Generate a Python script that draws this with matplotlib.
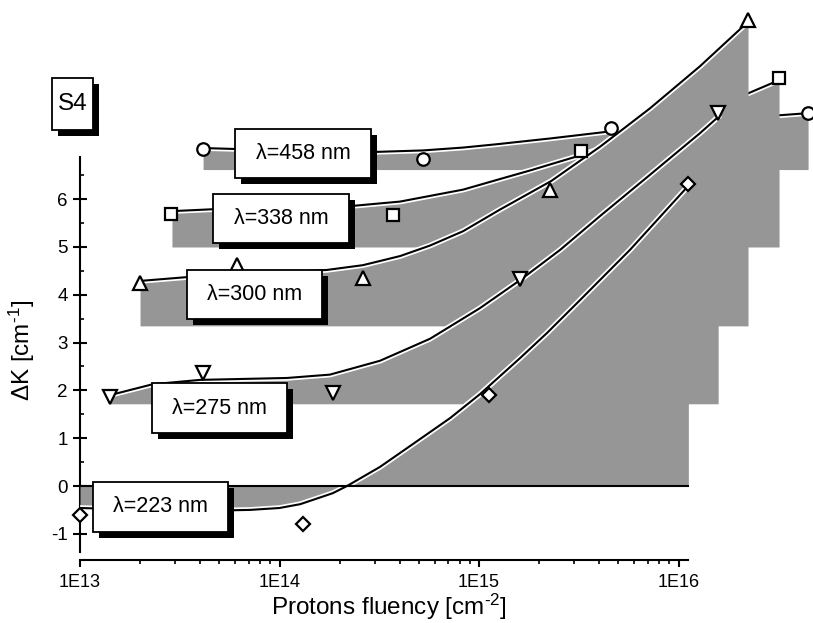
import numpy as np
import matplotlib
matplotlib.use("Agg")
import matplotlib.pyplot as plt
import matplotlib.patheffects as pe
from matplotlib.patches import Rectangle

plt.rcParams['font.family'] = ['Liberation Sans', 'DejaVu Sans']
plt.rcParams['mathtext.default'] = 'regular'
plt.rcParams['axes.unicode_minus'] = False

# measured points (fluence in cm^-2, delta K in cm^-1)
x_458 = [4.14e13, 5.24e14, 4.59e15, 4.46e16]
y_458 = [7.05, 6.84, 7.49, 7.80]
x_338 = [2.86e13, 3.71e14, 3.24e15, 3.19e16]
y_338 = [5.69, 5.67, 7.01, 8.54]
x_300 = [2.0e13, 6.12e13, 2.62e14, 2.27e15, 2.23e16]
y_300 = [4.25, 4.62, 4.35, 6.19, 9.75]
x_275 = [1.41e13, 4.14e13, 1.85e14, 1.61e15, 1.58e16]
y_275 = [1.86, 2.36, 1.95, 4.33, 7.80]
x_223 = [1.0e13, 1.31e14, 1.12e15, 1.12e16]
y_223 = [-0.61, -0.79, 1.90, 6.32]

# fitted curves
fx_458 = [4.14e13, 1.27e14, 3.08e14, 5.24e14, 8.32e14, 1.23e15, 2.27e15, 4.59e15, 1.02e16, 2.28e16, 4.46e16]
fy_458 = [7.07, 7.01, 6.99, 7.02, 7.08, 7.15, 7.27, 7.42, 7.58, 7.71, 7.80]
fx_338 = [2.89e13, 4.65e13, 1.01e14, 2.33e14, 4.02e14, 8.32e14, 1.27e15, 1.80e15, 3.24e15, 7.19e15, 1.28e16, 2.25e16, 3.19e16]
fy_338 = [5.75, 5.79, 5.81, 5.86, 5.95, 6.20, 6.42, 6.60, 6.92, 7.42, 7.82, 8.22, 8.49]
fx_300 = [2.0e13, 3.44e13, 7.11e13, 1.73e14, 2.62e14, 4.02e14, 5.68e14, 8.32e14, 1.27e15, 2.30e15, 4.05e15, 7.19e15, 1.28e16, 2.23e16]
fy_300 = [4.29, 4.37, 4.44, 4.52, 4.62, 4.81, 5.03, 5.33, 5.78, 6.38, 7.10, 7.90, 8.78, 9.71]
fx_275 = [1.41e13, 2.32e13, 4.0e13, 1.09e14, 1.79e14, 3.19e14, 5.68e14, 1.01e15, 1.61e15, 2.55e15, 4.05e15, 7.19e15, 1.28e16, 1.58e16]
fy_275 = [1.90, 2.13, 2.22, 2.26, 2.33, 2.62, 3.08, 3.72, 4.31, 4.94, 5.65, 6.51, 7.38, 7.72]
fx_223 = [1.0e13, 2.24e13, 4.0e13, 7.11e13, 1.0e14, 1.27e14, 1.85e14, 2.18e14, 3.19e14, 4.67e14, 7.16e14, 1.01e15, 1.61e15, 2.19e15, 3.21e15, 5.71e15, 1.12e16]
fy_223 = [-0.46, -0.50, -0.52, -0.50, -0.46, -0.38, -0.15, 0.0, 0.40, 0.88, 1.42, 1.92, 2.68, 3.20, 3.89, 4.94, 6.28]

base_458, base_338, base_300, base_275, base_223 = 6.62, 5.0, 3.35, 1.72, 0.0

labels = ['λ=458 nm', 'λ=338 nm', 'λ=300 nm', 'λ=275 nm', 'λ=223 nm']
xtick_vals = [1e13, 1e14, 1e15, 1e16]
xtick_labels = ['1E13', '1E14', '1E15', '1E16']
ytick_vals = [-1, 0, 1, 2, 3, 4, 5, 6]

W, H = 813, 623
fig = plt.figure(figsize=(W / 100, H / 100), dpi=100)
ax = fig.add_axes([80 / W, 63 / H, 1 - 80 / W, 1 - 63 / H])
ax.set_xscale('log')
ax.set_xlim(1e13, 10 ** 16.674)
ax.set_ylim(-1.548, 10.167)

gray = '#969696'
halo = [pe.Stroke(linewidth=4, foreground='white'), pe.Normal()]
series = [
    (fx_458, fy_458, base_458, x_458, y_458, 'o', 9),
    (fx_338, fy_338, base_338, x_338, y_338, 's', 8.5),
    (fx_300, fy_300, base_300, x_300, y_300, '^', 9.5),
    (fx_275, fy_275, base_275, x_275, y_275, 'v', 9.5),
    (fx_223, fy_223, base_223, x_223, y_223, 'D', 7),
]
for i, (fx, fy, base, mx, my, mk, ms) in enumerate(series):
    z = 2 + i
    ax.fill_between(fx, fy, base, color=gray, lw=0, zorder=z)
    ax.plot(fx, fy, color='black', lw=1.5, zorder=z + 0.1, path_effects=halo)
for i, (fx, fy, base, mx, my, mk, ms) in enumerate(series):
    ax.plot(mx, my, ls='none', marker=mk, ms=ms, mfc='white', mec='black',
            mew=1.6, zorder=20, clip_on=False)

# zero line under the 223 nm band
ax.plot([1e13, fx_223[-1]], [0, 0], color='black', lw=1.5, zorder=8)

for s in ['top', 'right']:
    ax.spines[s].set_visible(False)
ax.spines['left'].set_bounds(-1.38, 6.88)
ax.spines['bottom'].set_bounds(1e13, 10 ** 16.048)
for s in ['left', 'bottom']:
    ax.spines[s].set_linewidth(1.5)

ax.set_yticks(ytick_vals)
ax.set_yticks(np.arange(-0.5, 7, 1.0), minor=True)
ax.tick_params(axis='y', which='major', direction='inout', length=9.5, width=1.5, labelsize=13.5, pad=4)
ax.tick_params(axis='y', which='minor', direction='in', length=3, width=1.2)
ax.set_xticks(xtick_vals)
ax.set_xticklabels(xtick_labels)
ax.set_xticks([k * 10.0 ** e for e in (13, 14, 15) for k in range(2, 10)], minor=True)
ax.set_xticklabels([], minor=True)
ax.tick_params(axis='x', which='major', direction='out', length=5, width=1.5, labelsize=13, pad=5)
ax.tick_params(axis='x', which='minor', direction='out', length=3, width=1.2)

fig.text(389 / W, 1 - 607 / H, 'Protons fluency [cm$^{\u2010 2}$]', fontsize=17.5, ha='center', va='center')
fig.text(22 / W, 1 - 350 / H, 'ΔK [cm$^{\u2010 1}$]', fontsize=17.5, ha='center', va='center', rotation=90)


def box(x0, y0, x1, y1, text, size):
    sh = 6
    fig.add_artist(Rectangle(((x0 + sh) / W, 1 - (y1 + sh) / H), (x1 - x0) / W, (y1 - y0) / H,
                             transform=fig.transFigure, facecolor='black', edgecolor='none', zorder=30))
    fig.add_artist(Rectangle((x0 / W, 1 - y1 / H), (x1 - x0) / W, (y1 - y0) / H,
                             transform=fig.transFigure, facecolor='white', edgecolor='black', lw=1.3, zorder=31))
    fig.text((x0 + x1) / 2 / W, 1 - (y0 + y1) / 2 / H, text, fontsize=size,
             ha='center', va='center', zorder=32)


box(235, 129, 371, 178, labels[0], 15.5)
box(213, 194, 349, 243, labels[1], 15.5)
box(187, 270, 322, 319, labels[2], 15.5)
box(152, 383, 287, 433, labels[3], 15.5)
box(93, 482, 228, 532, labels[4], 15.5)
box(52, 78, 93, 130, 'S4', 17.5)

fig.savefig('out.png', dpi=100)
